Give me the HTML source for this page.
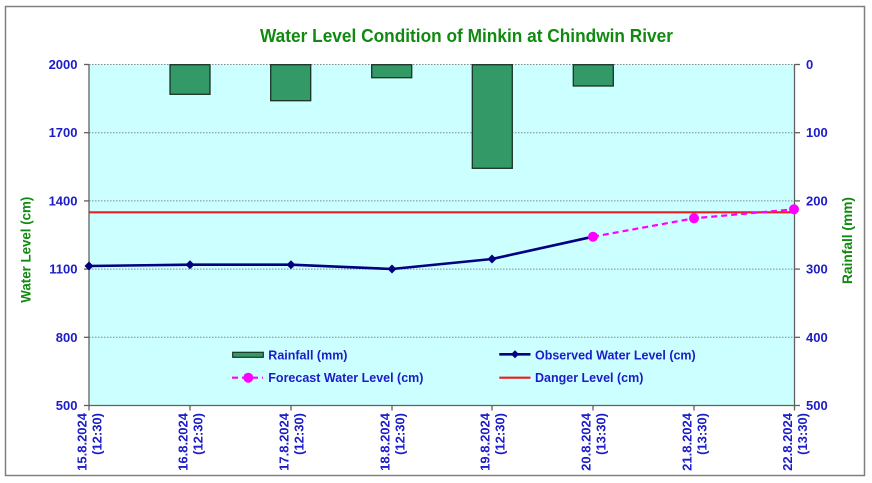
<!DOCTYPE html>
<html><head><meta charset="utf-8"><style>
html,body{margin:0;padding:0;background:#fff;}
svg{display:block;}
text{font-family:"Liberation Sans",Arial,sans-serif;font-weight:bold;}
</style></head><body>
<svg width="872" height="483" viewBox="0 0 872 483" xmlns="http://www.w3.org/2000/svg">
<rect x="0" y="0" width="872" height="483" fill="#fff"/>
<rect x="5.5" y="6.5" width="859" height="469" fill="#fff" stroke="#808080" stroke-width="1.5"/>
<text x="466.5" y="42" font-size="18" fill="#108a10" text-anchor="middle" textLength="413" lengthAdjust="spacingAndGlyphs">Water Level Condition of Minkin at Chindwin River</text>
<!-- plot area -->
<rect x="89" y="64.5" width="705.5" height="341" fill="#ccffff"/>
<g stroke="#7a8a8a" stroke-width="1" stroke-dasharray="1.5 1.5">
<line x1="89" y1="64.5" x2="794.5" y2="64.5"/>
<line x1="89" y1="132.7" x2="794.5" y2="132.7"/>
<line x1="89" y1="200.9" x2="794.5" y2="200.9"/>
<line x1="89" y1="269.1" x2="794.5" y2="269.1"/>
<line x1="89" y1="337.3" x2="794.5" y2="337.3"/>
</g>
<!-- bars -->
<g fill="#339966" stroke="#1a3326" stroke-width="1.3">
<rect x="170" y="64.7" width="40" height="29.6"/>
<rect x="270.7" y="64.7" width="40" height="36"/>
<rect x="371.7" y="64.7" width="40" height="13"/>
<rect x="472.3" y="64.7" width="40" height="103.6"/>
<rect x="573.3" y="64.7" width="40" height="21.3"/>
</g>
<!-- axes -->
<g stroke="#606060" stroke-width="1.3">
<line x1="89" y1="64.5" x2="89" y2="405.5"/>
<line x1="794.5" y1="64.5" x2="794.5" y2="405.5"/>
<line x1="89" y1="405.5" x2="794.5" y2="405.5"/>
<line x1="84" y1="64.5" x2="89" y2="64.5"/>
<line x1="84" y1="132.7" x2="89" y2="132.7"/>
<line x1="84" y1="200.9" x2="89" y2="200.9"/>
<line x1="84" y1="269.1" x2="89" y2="269.1"/>
<line x1="84" y1="337.3" x2="89" y2="337.3"/>
<line x1="84" y1="405.5" x2="89" y2="405.5"/>
<line x1="794.5" y1="64.5" x2="800" y2="64.5"/>
<line x1="794.5" y1="132.7" x2="800" y2="132.7"/>
<line x1="794.5" y1="200.9" x2="800" y2="200.9"/>
<line x1="794.5" y1="269.1" x2="800" y2="269.1"/>
<line x1="794.5" y1="337.3" x2="800" y2="337.3"/>
<line x1="794.5" y1="405.5" x2="800" y2="405.5"/>
<line x1="89" y1="405.5" x2="89" y2="410.5"/>
<line x1="190" y1="405.5" x2="190" y2="410.5"/>
<line x1="291" y1="405.5" x2="291" y2="410.5"/>
<line x1="392" y1="405.5" x2="392" y2="410.5"/>
<line x1="492" y1="405.5" x2="492" y2="410.5"/>
<line x1="593" y1="405.5" x2="593" y2="410.5"/>
<line x1="694" y1="405.5" x2="694" y2="410.5"/>
<line x1="794.5" y1="405.5" x2="794.5" y2="410.5"/>
</g>
<!-- danger -->
<line x1="89" y1="212.3" x2="794.5" y2="212.3" stroke="#ee1c1c" stroke-width="2.2"/>
<!-- observed -->
<polyline points="89,266 190,264.7 291,264.7 392,269 492,259 593,236.7" fill="none" stroke="#000080" stroke-width="2.6" stroke-linejoin="round"/>
<g fill="#000080">
<polygon points="89,261.5 93.5,266 89,270.5 84.5,266"/>
<polygon points="190,260.2 194.5,264.7 190,269.2 185.5,264.7"/>
<polygon points="291,260.2 295.5,264.7 291,269.2 286.5,264.7"/>
<polygon points="392,264.5 396.5,269 392,273.5 387.5,269"/>
<polygon points="492,254.5 496.5,259 492,263.5 487.5,259"/>
</g>
<!-- forecast -->
<polyline points="593,236.7 694,218.3 794,209.3" fill="none" stroke="#ff00ff" stroke-width="2.2" stroke-dasharray="6 4"/>
<g fill="#ff00ff">
<circle cx="593" cy="236.7" r="5"/>
<circle cx="694" cy="218.3" r="5"/>
<circle cx="794" cy="209.3" r="5"/>
</g>
<!-- legend -->
<rect x="232.7" y="352.3" width="30.6" height="5" fill="#339966" stroke="#1a3326" stroke-width="1.2"/>
<text x="268.3" y="359.3" font-size="12.5" fill="#1c1cc8">Rainfall (mm)</text>
<line x1="232" y1="377.7" x2="263" y2="377.7" stroke="#ff00ff" stroke-width="2.2" stroke-dasharray="6 4"/>
<circle cx="248.3" cy="377.7" r="5" fill="#ff00ff"/>
<text x="268.3" y="382" font-size="12.5" fill="#1c1cc8">Forecast Water Level (cm)</text>
<line x1="499.3" y1="354.3" x2="530.5" y2="354.3" stroke="#000080" stroke-width="2.6"/>
<polygon points="515,350.3 519,354.3 515,358.3 511,354.3" fill="#000080"/>
<text x="535" y="359.3" font-size="12.5" fill="#1c1cc8">Observed Water Level (cm)</text>
<line x1="499.3" y1="377.7" x2="530.5" y2="377.7" stroke="#ee1c1c" stroke-width="2.2"/>
<text x="535" y="382" font-size="12.5" fill="#1c1cc8">Danger Level (cm)</text>
<!-- left tick labels -->
<g font-size="13" fill="#1c1cc8" text-anchor="end">
<text x="77.5" y="69">2000</text>
<text x="77.5" y="137.2">1700</text>
<text x="77.5" y="205.4">1400</text>
<text x="77.5" y="273.6">1100</text>
<text x="77.5" y="341.8">800</text>
<text x="77.5" y="410">500</text>
</g>
<g font-size="13" fill="#1c1cc8" text-anchor="start">
<text x="806" y="69">0</text>
<text x="806" y="137.2">100</text>
<text x="806" y="205.4">200</text>
<text x="806" y="273.6">300</text>
<text x="806" y="341.8">400</text>
<text x="806" y="410">500</text>
</g>
<!-- axis titles -->
<text transform="translate(30.5,249.7) rotate(-90)" font-size="13.5" fill="#108a10" text-anchor="middle" textLength="106" lengthAdjust="spacingAndGlyphs">Water Level (cm)</text>
<text transform="translate(852,240.5) rotate(-90)" font-size="13.5" fill="#108a10" text-anchor="middle" textLength="87" lengthAdjust="spacingAndGlyphs">Rainfall (mm)</text>
<!-- x labels -->
<g font-size="13" fill="#1c1cc8" text-anchor="end">
<text transform="translate(86.6,413) rotate(-90)">15.8.2024</text>
<text transform="translate(101.5,413) rotate(-90)">(12:30)</text>
<text transform="translate(187.6,413) rotate(-90)">16.8.2024</text>
<text transform="translate(202.5,413) rotate(-90)">(12:30)</text>
<text transform="translate(288.6,413) rotate(-90)">17.8.2024</text>
<text transform="translate(303.5,413) rotate(-90)">(12:30)</text>
<text transform="translate(389.6,413) rotate(-90)">18.8.2024</text>
<text transform="translate(404.5,413) rotate(-90)">(12:30)</text>
<text transform="translate(489.6,413) rotate(-90)">19.8.2024</text>
<text transform="translate(504.5,413) rotate(-90)">(12:30)</text>
<text transform="translate(590.6,413) rotate(-90)">20.8.2024</text>
<text transform="translate(605.5,413) rotate(-90)">(13:30)</text>
<text transform="translate(691.6,413) rotate(-90)">21.8.2024</text>
<text transform="translate(706.5,413) rotate(-90)">(13:30)</text>
<text transform="translate(792,413) rotate(-90)">22.8.2024</text>
<text transform="translate(807,413) rotate(-90)">(13:30)</text>
</g>
</svg>
</body></html>
